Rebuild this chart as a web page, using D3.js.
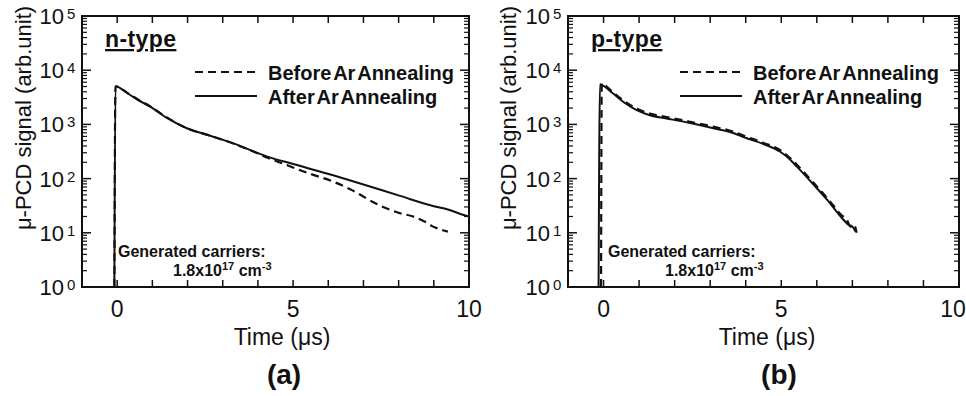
<!DOCTYPE html>
<html>
<head>
<meta charset="utf-8">
<script src="https://cdn.jsdelivr.net/npm/d3@7"></script>
<style>
  body { margin: 0; background: #fff; }
  text { font-family: "Liberation Sans", Arial, sans-serif; fill: #111; }
</style>
</head>
<body>
<svg id="chart" width="966" height="396"></svg>
<script>
// ticks
var xMajor = [0, 1, 2, 3, 4, 5, 6, 7, 8, 9];
var xLabels = [0, 5, 10];
var yDecades = [1, 10, 100, 1000, 10000, 100000];
var yExp = ["0", "1", "2", "3", "4", "5"];

// n-type, before Ar annealing (dashed)
var nBeforeT = [-0.08, -0.05, 0, 0.28, 0.6, 0.94, 1.4, 1.98, 2.6, 3.3, 3.8, 4.29, 4.8, 5.4, 6.14, 6.7, 7.27, 7.56, 8.04, 8.41, 8.75, 8.98, 9.2, 9.4];
var nBeforeV = [1, 5000, 4950, 3850, 2850, 2150, 1360, 850, 630, 445, 330, 240, 180, 128, 88, 60, 37, 30, 23, 20, 16, 13, 11.5, 10.5];
// n-type, after Ar annealing (solid)
var nAfterT = [-0.08, -0.05, 0, 0.28, 0.6, 0.94, 1.4, 1.98, 2.6, 3.3, 4.29, 5.0, 6.14, 7.0, 8.04, 9.0, 9.4, 9.7, 10.0];
var nAfterV = [1, 5100, 5000, 3800, 2800, 2120, 1330, 850, 630, 447, 252, 186, 115, 78, 48, 31, 27, 23, 20];

// p-type, before Ar annealing (dashed)
var pBeforeT = [-0.07, -0.05, 0, 0.26, 0.6, 0.92, 1.3, 1.77, 2.4, 3.09, 3.6, 4.03, 4.5, 4.97, 5.2, 5.44, 5.92, 6.3, 6.67, 6.85, 6.95, 7.05, 7.12];
var pBeforeV = [1, 5700, 5500, 3950, 2650, 1980, 1580, 1370, 1130, 910, 750, 590, 455, 335, 255, 180, 82, 43, 22, 17, 13, 14, 10];
// p-type, after Ar annealing (solid)
var pAfterT = [-0.14, -0.1, -0.04, 0.26, 0.6, 0.92, 1.3, 1.77, 2.4, 3.09, 3.6, 4.03, 4.5, 4.97, 5.2, 5.44, 5.92, 6.3, 6.67, 6.9, 7.0, 7.09];
var pAfterV = [1, 5500, 5300, 3750, 2480, 1850, 1480, 1290, 1070, 850, 710, 554, 435, 313, 240, 166, 76, 40, 20, 14, 13, 10.6];

var panelTitles = ["n-type", "p-type"];
var panelLetters = ["(a)", "(b)"];
var legendNames = ["Before Ar Annealing", "After Ar Annealing"];

var svg = d3.select("#chart");

var panels = [
  { left: 82, right: 469, tb: [nBeforeT, nBeforeV], ta: [nAfterT, nAfterV],
    title: panelTitles[0], letter: panelLetters[0], legX: 195, noteX: 118, note2X: 173, capX: 282, letX: 284, yTitleX: 23 },
  { left: 568, right: 959, tb: [pBeforeT, pBeforeV], ta: [pAfterT, pAfterV],
    title: panelTitles[1], letter: panelLetters[1], legX: 680, noteX: 608, note2X: 665, capX: 767, letX: 779, yTitleX: 508 }
];
var plotTop = 16, plotBottom = 287;

panels.forEach(function (p, i) {
  var x = d3.scaleLinear().domain([-1, 10]).range([p.left, p.right]);
  var y = d3.scaleLog().domain([1, 1e5]).range([plotBottom, plotTop]);
  var g = svg.append("g");

  // clip for curves
  g.append("clipPath").attr("id", "clip" + i)
    .append("rect").attr("x", p.left).attr("y", plotTop)
    .attr("width", p.right - p.left).attr("height", plotBottom - plotTop);

  var line = d3.line()
    .x(function (d) { return x(d[0]); })
    .y(function (d) { return y(d[1]); })
    .curve(d3.curveMonotoneX);

  var before = p.tb[0].map(function (t, k) { return [t, p.tb[1][k]]; });
  var after = p.ta[0].map(function (t, k) { return [t, p.ta[1][k]]; });

  g.append("path").datum(after)
    .attr("clip-path", "url(#clip" + i + ")")
    .attr("fill", "none").attr("stroke", "#111").attr("stroke-width", 2)
    .attr("d", line);
  g.append("path").datum(before)
    .attr("clip-path", "url(#clip" + i + ")")
    .attr("fill", "none").attr("stroke", "#111").attr("stroke-width", 2.2)
    .attr("stroke-dasharray", "8,5")
    .attr("d", line);

  // x ticks bottom and top, inward
  xMajor.forEach(function (v) {
    g.append("line").attr("x1", x(v)).attr("x2", x(v))
      .attr("y1", plotBottom).attr("y2", plotBottom - 7).attr("stroke", "#111").attr("stroke-width", 1.5);
    g.append("line").attr("x1", x(v)).attr("x2", x(v))
      .attr("y1", plotTop).attr("y2", plotTop + 7).attr("stroke", "#111").attr("stroke-width", 1.5);
  });
  xLabels.forEach(function (v) {
    g.append("text").attr("x", Math.min(x(v), 953)).attr("y", 317)
      .attr("text-anchor", "middle").style("font-size", "23px").text(v);
  });

  // y ticks left and right (log minor)
  var minor = [];
  yDecades.slice(0, -1).forEach(function (d) {
    for (var k = 2; k <= 9; k++) minor.push(d * k);
  });
  minor.forEach(function (v) {
    g.append("line").attr("x1", p.left).attr("x2", p.left + 5)
      .attr("y1", y(v)).attr("y2", y(v)).attr("stroke", "#111").attr("stroke-width", 1.2);
    g.append("line").attr("x1", p.right).attr("x2", p.right - 5)
      .attr("y1", y(v)).attr("y2", y(v)).attr("stroke", "#111").attr("stroke-width", 1.2);
  });
  yDecades.forEach(function (v, k) {
    g.append("line").attr("x1", p.left).attr("x2", p.left + 9)
      .attr("y1", y(v)).attr("y2", y(v)).attr("stroke", "#111").attr("stroke-width", 1.5);
    g.append("line").attr("x1", p.right).attr("x2", p.right - 9)
      .attr("y1", y(v)).attr("y2", y(v)).attr("stroke", "#111").attr("stroke-width", 1.5);
    g.append("text").attr("x", p.left - 18).attr("y", y(v) + 8)
      .attr("text-anchor", "end").style("font-size", "22px").text("10");
    g.append("text").attr("x", p.left - 15).attr("y", y(v) + 3)
      .style("font-size", "15px").text(yExp[k]);
  });

  // frame
  g.append("rect").attr("x", p.left).attr("y", plotTop)
    .attr("width", p.right - p.left).attr("height", plotBottom - plotTop)
    .attr("fill", "none").attr("stroke", "#111").attr("stroke-width", 2);

  // axis titles
  g.append("text").attr("x", p.capX).attr("y", 345)
    .attr("text-anchor", "middle").style("font-size", "23px").text("Time (\u03bcs)");
  g.append("text")
    .attr("transform", "translate(" + (p.yTitleX + 8) + ",118) rotate(-90)")
    .attr("text-anchor", "middle").style("font-size", "22px").text("\u03bc-PCD signal (arb.unit)");
  g.append("text").attr("x", p.letX).attr("y", 384)
    .attr("text-anchor", "middle").style("font-size", "28px").style("font-weight", "bold").text(p.letter);

  // panel title, underlined
  g.append("text").attr("x", p.left + 23).attr("y", 47)
    .style("font-size", "23px").style("font-weight", "bold").style("letter-spacing", "0.4px")
    .style("text-decoration", "underline").text(p.title);

  // legend
  [0, 1].forEach(function (k) {
    var ly = 72 + k * 24;
    g.append("line").attr("x1", p.legX).attr("x2", p.legX + 62)
      .attr("y1", ly).attr("y2", ly).attr("stroke", "#111").attr("stroke-width", 2)
      .attr("stroke-dasharray", k === 0 ? "8,5" : null);
    g.append("text").attr("x", p.legX + 73).attr("y", ly + 8)
      .style("font-size", "20px").style("font-weight", "bold")
      .style("word-spacing", "-3px").text(legendNames[k]);
  });

  // note
  g.append("text").attr("x", p.noteX).attr("y", 257)
    .style("font-size", "16px").style("font-weight", "bold").text("Generated carriers:");
  var n2 = g.append("text").attr("x", p.note2X).attr("y", 276)
    .style("font-size", "16px").style("font-weight", "bold");
  n2.append("tspan").text("1.8x10");
  n2.append("tspan").attr("dy", -6).style("font-size", "11px").text("17");
  n2.append("tspan").attr("dy", 6).text(" cm");
  n2.append("tspan").attr("dy", -6).style("font-size", "11px").text("-3");
});
</script>
</body>
</html>
